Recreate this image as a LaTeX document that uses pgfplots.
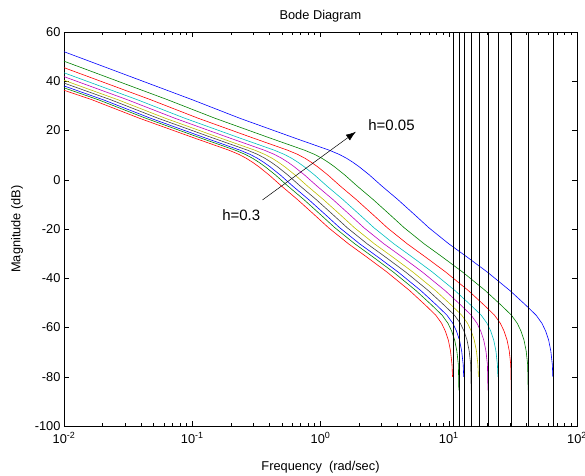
\documentclass[border=0pt]{standalone}
\usepackage{pgfplots}
\pgfplotsset{compat=1.18}
\usepackage{fontspec}
\setmainfont{Liberation Sans}
\usetikzlibrary{arrows.meta}

% MATLAB line colour order
\definecolor{mblue}{rgb}{0,0,1}
\definecolor{mgreen}{rgb}{0,0.5,0}
\definecolor{mred}{rgb}{1,0,0}
\definecolor{mcyan}{rgb}{0,0.75,0.75}
\definecolor{mmag}{rgb}{0.75,0,0.75}
\definecolor{myel}{rgb}{0.75,0.75,0}
\definecolor{mblack}{rgb}{0.25,0.25,0.25}

\newcommand{\lbl}{\fontsize{12.8}{15}\selectfont}

\begin{document}
\begin{tikzpicture}
\begin{axis}[
  at={(0,0)}, anchor=south west,
  scale only axis, width=513pt, height=394pt,
  xmode=log, xmin=0.01, xmax=100, ymin=-100, ymax=60,
  xtick={0.01,0.1,1,10,100},
  xticklabels={10\textsuperscript{-2},10\textsuperscript{-1},10\textsuperscript{0},10\textsuperscript{1},10\textsuperscript{2}},
  minor xtick={0.02,0.03,0.04,0.05,0.06,0.07,0.08,0.09,
               0.2,0.3,0.4,0.5,0.6,0.7,0.8,0.9,
               2,3,4,5,6,7,8,9,20,30,40,50,60,70,80,90},
  ytick={-100,-80,-60,-40,-20,0,20,40,60},
  yticklabels={-100,-80,-60,-40,-20,0,20,40,60},
  tick align=inside,
  major tick length=5pt, minor tick length=3pt,
  every tick/.style={black, line width=0.5pt},
  axis line style={black, line width=0.6pt},
  tick label style={font=\lbl},
  xticklabel style={yshift=-3pt},
  title={Bode Diagram},
  title style={font=\lbl, at={(axis description cs:0.5,1)}, anchor=base, yshift=6.7pt},
  xlabel={Frequency~~(rad/sec)},
  xlabel style={font=\lbl, at={(axis description cs:0.5,0)}, anchor=base, yshift=-44.5pt},
  ylabel={Magnitude (dB)},
  ylabel style={font=\lbl, at={(axis description cs:0,0.5)}, anchor=center, yshift=47pt},
  every axis plot/.append style={line width=0.6pt, line join=round},
]
% h = 0.05
\addplot[mblue] coordinates {(0.01,52) (0.1,32.5) (0.234,25.0) (0.625,17.0) (1.17,12.0) (1.4,10.3) (1.6,8.7) (1.8,7.0) (2.0,5.3) (2.4,2.0) (3.0,-2.5) (4.0,-8.0) (5.5,-14.5) (7.0,-19.5) (10,-26.0) (14,-31.5) (20,-37.5) (30,-45.0) (40,-51.0) (48,-55.0) (53.3,-58.3) (57,-61.5) (60.1,-65.1) (62.5,-69.5) (64.2,-75.0) (64.8,-80)};
\addplot[mgreen] coordinates {(0.01,48.15) (0.0642,32.5) (0.150,25.0) (0.401,17.0) (0.751,12.0) (0.899,10.3) (1.028,8.7) (1.156,7.0) (1.284,5.3) (1.541,2.0) (1.927,-2.5) (2.569,-8.0) (3.532,-14.5) (4.495,-19.5) (6.422,-26.0) (8.99,-31.5) (12.84,-37.5) (19.27,-45.0) (25.69,-51.0) (30.83,-55.0) (34.23,-58.3) (36.61,-61.5) (38.60,-65.1) (40.14,-69.5) (41.23,-75.0) (41.61,-85.5)};
\addplot[mred] coordinates {(0.01,45.52) (0.0474,32.5) (0.1109,25.0) (0.2963,17.0) (0.5546,12.0) (0.6636,10.3) (0.7584,8.7) (0.8532,7.0) (0.948,5.3) (1.1376,2.0) (1.422,-2.5) (1.896,-8.0) (2.607,-14.5) (3.318,-19.5) (4.740,-26.0) (6.636,-31.5) (9.48,-37.5) (14.22,-45.0) (18.96,-51.0) (22.75,-55.0) (25.26,-58.3) (27.02,-61.5) (28.49,-65.1) (29.63,-69.5) (30.43,-75.0) (30.72,-85.5)};
\addplot[mcyan] coordinates {(0.01,43.44) (0.03731,32.5) (0.0873,25.0) (0.2332,17.0) (0.4365,12.0) (0.5223,10.3) (0.5970,8.7) (0.6716,7.0) (0.7462,5.3) (0.8954,2.0) (1.119,-2.5) (1.492,-8.0) (2.052,-14.5) (2.612,-19.5) (3.731,-26.0) (5.223,-31.5) (7.462,-37.5) (11.19,-45.0) (14.92,-51.0) (17.91,-55.0) (19.89,-58.3) (21.27,-61.5) (22.42,-65.1) (23.32,-69.5) (23.95,-75.0) (24.18,-80)};
\addplot[mmag] coordinates {(0.01,41.88) (0.03119,32.5) (0.0730,25.0) (0.1949,17.0) (0.3649,12.0) (0.4367,10.3) (0.4990,8.7) (0.5614,7.0) (0.6238,5.3) (0.7486,2.0) (0.9357,-2.5) (1.248,-8.0) (1.715,-14.5) (2.183,-19.5) (3.119,-26.0) (4.367,-31.5) (6.238,-37.5) (9.357,-45.0) (12.48,-51.0) (14.97,-55.0) (16.62,-58.3) (17.78,-61.5) (18.75,-65.1) (19.49,-69.5) (20.02,-75.0) (20.21,-85.5)};
\addplot[myel] coordinates {(0.01,40.40) (0.0263,32.5) (0.0615,25.0) (0.1644,17.0) (0.3077,12.0) (0.3682,10.3) (0.4208,8.7) (0.4734,7.0) (0.526,5.3) (0.6312,2.0) (0.789,-2.5) (1.052,-8.0) (1.4465,-14.5) (1.841,-19.5) (2.630,-26.0) (3.682,-31.5) (5.260,-37.5) (7.890,-45.0) (10.52,-51.0) (12.62,-55.0) (14.02,-58.3) (14.99,-61.5) (15.81,-65.1) (16.44,-69.5) (16.88,-75.0) (17.04,-80)};
\addplot[mblack] coordinates {(0.01,39.27) (0.02309,32.5) (0.0540,25.0) (0.1443,17.0) (0.2702,12.0) (0.3233,10.3) (0.3694,8.7) (0.4156,7.0) (0.4618,5.3) (0.5542,2.0) (0.6927,-2.5) (0.9236,-8.0) (1.270,-14.5) (1.616,-19.5) (2.309,-26.0) (3.233,-31.5) (4.618,-37.5) (6.927,-45.0) (9.236,-51.0) (11.08,-55.0) (12.31,-58.3) (13.16,-61.5) (13.88,-65.1) (14.43,-69.5) (14.82,-75.0) (14.96,-85.5)};
\addplot[mblue] coordinates {(0.01,38.10) (0.02018,32.5) (0.0472,25.0) (0.1261,17.0) (0.2361,12.0) (0.2825,10.3) (0.3229,8.7) (0.3632,7.0) (0.4036,5.3) (0.4843,2.0) (0.6054,-2.5) (0.8072,-8.0) (1.110,-14.5) (1.413,-19.5) (2.018,-26.0) (2.825,-31.5) (4.036,-37.5) (6.054,-45.0) (8.072,-51.0) (9.686,-55.0) (10.76,-58.3) (11.50,-61.5) (12.13,-65.1) (12.61,-69.5) (12.96,-75.0) (13.08,-80)};
\addplot[mgreen] coordinates {(0.01,37.34) (0.0185,32.5) (0.04329,25.0) (0.1156,17.0) (0.2165,12.0) (0.259,10.3) (0.296,8.7) (0.333,7.0) (0.370,5.3) (0.444,2.0) (0.555,-2.5) (0.740,-8.0) (1.0175,-14.5) (1.295,-19.5) (1.850,-26.0) (2.590,-31.5) (3.700,-37.5) (5.550,-45.0) (7.400,-51.0) (8.880,-55.0) (9.861,-58.3) (10.545,-61.5) (11.12,-65.1) (11.56,-69.5) (11.88,-75.0) (11.99,-85.5)};
% h = 0.3
\addplot[mred] coordinates {(0.01,36.35) (0.01651,32.5) (0.03863,25.0) (0.1032,17.0) (0.1932,12.0) (0.2311,10.3) (0.2642,8.7) (0.2972,7.0) (0.3302,5.3) (0.3962,2.0) (0.4953,-2.5) (0.6604,-8.0) (0.9081,-14.5) (1.156,-19.5) (1.651,-26.0) (2.311,-31.5) (3.302,-37.5) (4.953,-45.0) (6.604,-51.0) (7.925,-55.0) (8.800,-58.3) (9.411,-61.5) (9.923,-65.1) (10.32,-69.5) (10.60,-75.0) (10.70,-80)};

% Nyquist frequencies pi/h
\addplot[black] coordinates {(10.8,-100) (10.8,60)};
\addplot[black] coordinates {(12.1,-100) (12.1,60)};
\addplot[black] coordinates {(13.2,-100) (13.2,60)};
\addplot[black] coordinates {(15.1,-100) (15.1,60)};
\addplot[black] coordinates {(17.2,-100) (17.2,60)};
\addplot[black] coordinates {(20.4,-100) (20.4,60)};
\addplot[black] coordinates {(24.4,-100) (24.4,60)};
\addplot[black] coordinates {(31.0,-100) (31.0,60)};
\addplot[black] coordinates {(42.0,-100) (42.0,60)};
\addplot[black] coordinates {(65.4,-100) (65.4,60)};

\draw[black, line width=0.5pt, -{Latex[length=10pt,width=7pt]}] (axis cs:0.353,-8.2) -- (axis cs:1.89,19.5);
\node[font=\fontsize{15}{18}\selectfont] at (axis cs:0.241,-14.3) {h=0.3};
\node[font=\fontsize{15}{18}\selectfont] at (axis cs:3.58,22.2) {h=0.05};
\end{axis}
\pgfresetboundingbox
\path[use as bounding box] (-64pt,-49pt) rectangle (521pt,426pt);
\end{tikzpicture}
\end{document}
